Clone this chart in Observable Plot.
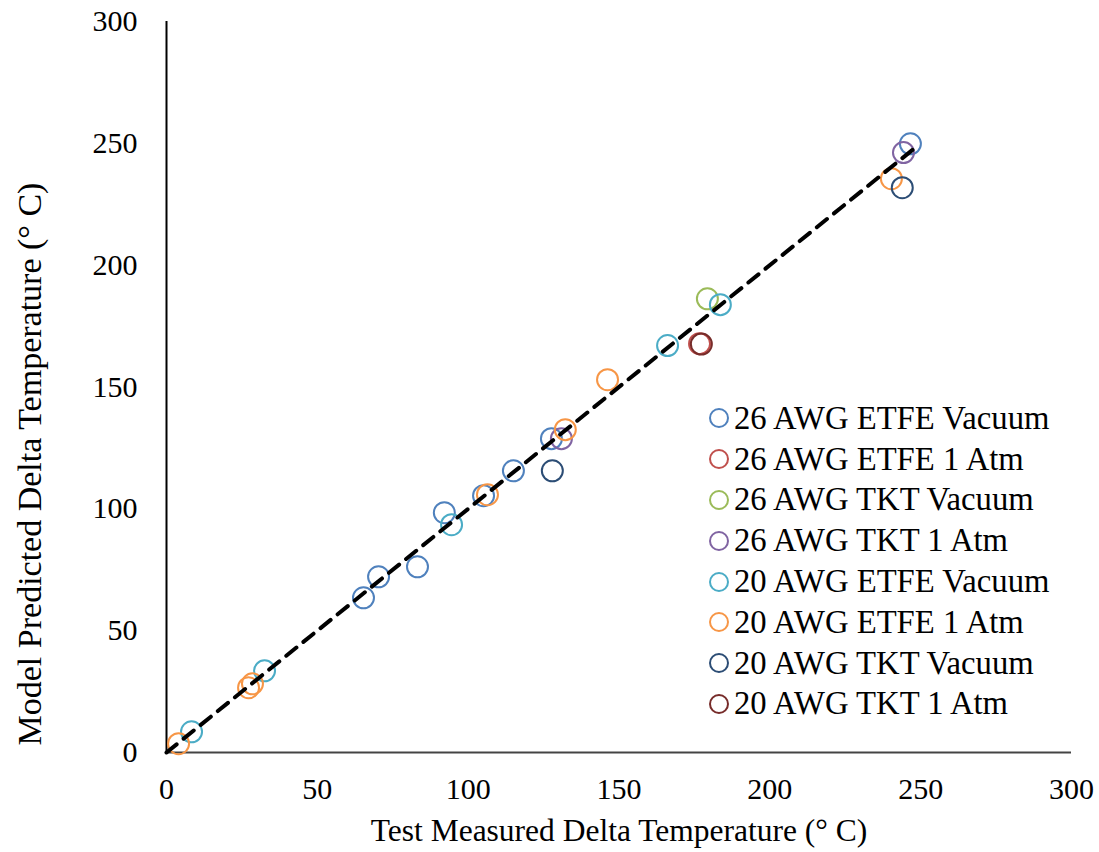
<!DOCTYPE html>
<html>
<head>
<meta charset="utf-8">
<script src="https://cdn.jsdelivr.net/npm/d3@7"></script>
<script src="https://cdn.jsdelivr.net/npm/@observablehq/plot@0.6"></script>
<style>
  html, body { margin: 0; padding: 0; background: #fff; }
  #wrap { position: relative; width: 1099px; height: 852px; font-family: "Liberation Serif", "Times New Roman", serif; }
  #legend { position: absolute; left: 707px; top: 398px; }
  .row { display: flex; align-items: center; height: 40.8px; font-size: 32.7px; color: #000; white-space: nowrap; }
  .row svg { margin-right: 3px; }
</style>
</head>
<body>
<div id="wrap"></div>
<script>
// ---- data ----
const seriesNames = [
  "26 AWG ETFE Vacuum", "26 AWG ETFE 1 Atm", "26 AWG TKT Vacuum", "26 AWG TKT 1 Atm",
  "20 AWG ETFE Vacuum", "20 AWG ETFE 1 Atm", "20 AWG TKT Vacuum", "20 AWG TKT 1 Atm"
];
const seriesColors = ["#4F81BD", "#C0504D", "#9BBB59", "#8064A2", "#4BACC6", "#F79646", "#2C4D75", "#772C2A"];

const etfe26VacMeasured  = [65.3, 70.3, 83.2, 92.1, 105.1, 115.0, 127.6, 246.6];
const etfe26VacPredicted = [63.5, 72.1, 76.2, 98.4, 105.4, 115.6, 128.8, 249.8];
const etfe26AtmMeasured  = [176.7];
const etfe26AtmPredicted = [167.8];
const tkt26VacMeasured   = [179.3];
const tkt26VacPredicted  = [186.2];
const tkt26AtmMeasured   = [130.9, 244.3];
const tkt26AtmPredicted  = [128.8, 246.2];
const etfe20VacMeasured  = [8.3, 32.5, 94.5, 166.1, 183.6];
const etfe20VacPredicted = [8.5, 33.5, 93.5, 167.0, 183.8];
const etfe20AtmMeasured  = [4.0, 27.2, 28.5, 106.4, 132.2, 146.2, 240.3];
const etfe20AtmPredicted = [3.6, 26.6, 28.2, 105.8, 132.5, 153.0, 235.5];
const tkt20VacMeasured   = [127.9, 243.9];
const tkt20VacPredicted  = [115.6, 231.8];
const tkt20AtmMeasured   = [177.3];
const tkt20AtmPredicted  = [167.6];

const fitLine = [0, 249];           // y = x reference line
const ticks = [0, 50, 100, 150, 200, 250, 300];
const xTitle = "Test Measured Delta Temperature (° C)";
const yTitle = "Model Predicted Delta Temperature (° C)";

// ---- build table ----
const measured = [etfe26VacMeasured, etfe26AtmMeasured, tkt26VacMeasured, tkt26AtmMeasured,
                  etfe20VacMeasured, etfe20AtmMeasured, tkt20VacMeasured, tkt20AtmMeasured];
const predicted = [etfe26VacPredicted, etfe26AtmPredicted, tkt26VacPredicted, tkt26AtmPredicted,
                   etfe20VacPredicted, etfe20AtmPredicted, tkt20VacPredicted, tkt20AtmPredicted];
const points = [];
seriesNames.forEach((s, i) => measured[i].forEach((m, j) => points.push({series: s, x: m, y: predicted[i][j]})));
const linePts = fitLine.map(v => ({x: v, y: v}));

const chart = Plot.plot({
  width: 1099,
  height: 852,
  marginLeft: 166,
  marginRight: 28,
  marginTop: 21,
  marginBottom: 100,
  style: {fontFamily: '"Liberation Serif", "Times New Roman", serif', fontSize: "30px", background: "#fff"},
  x: {domain: [0, 300], ticks: ticks},
  y: {domain: [0, 300], ticks: ticks},
  color: {domain: seriesNames, range: seriesColors},
  marks: [
    Plot.axisX({ticks: ticks, tickSize: 0, tickPadding: 25, label: null, fontSize: 30, fill: "#000"}),
    Plot.axisY({ticks: ticks, tickSize: 0, tickPadding: 29, label: null, fontSize: 30, fill: "#000"}),
    Plot.ruleY([0], {stroke: "#444", strokeWidth: 2}),
    Plot.ruleX([0], {stroke: "#000", strokeWidth: 2}),
    Plot.dot(points, {x: "x", y: "y", r: 10.5, stroke: "series", strokeWidth: 2, fill: "none"}),
    Plot.line(linePts, {x: "x", y: "y", stroke: "#000", strokeWidth: 4, strokeDasharray: "13,9"}),
    Plot.text([xTitle], {frameAnchor: "bottom", textAnchor: "middle", dy: 88, fontSize: 31.5, fill: "#000"}),
    Plot.text([yTitle], {frameAnchor: "left", textAnchor: "middle", rotate: -90, dx: -136, dy: 77, fontSize: 34, fill: "#000"})
  ]
});
document.getElementById("wrap").appendChild(chart);

// legend (inside plot area, right side)
const legend = document.createElement("div");
legend.id = "legend";
seriesNames.forEach((s, i) => {
  const row = document.createElement("div");
  row.className = "row";
  row.innerHTML = `<svg width="24" height="24"><circle cx="12" cy="12" r="9" fill="none" stroke="${seriesColors[i]}" stroke-width="2"/></svg><span>${s}</span>`;
  legend.appendChild(row);
});
document.getElementById("wrap").appendChild(legend);
</script>
</body>
</html>
